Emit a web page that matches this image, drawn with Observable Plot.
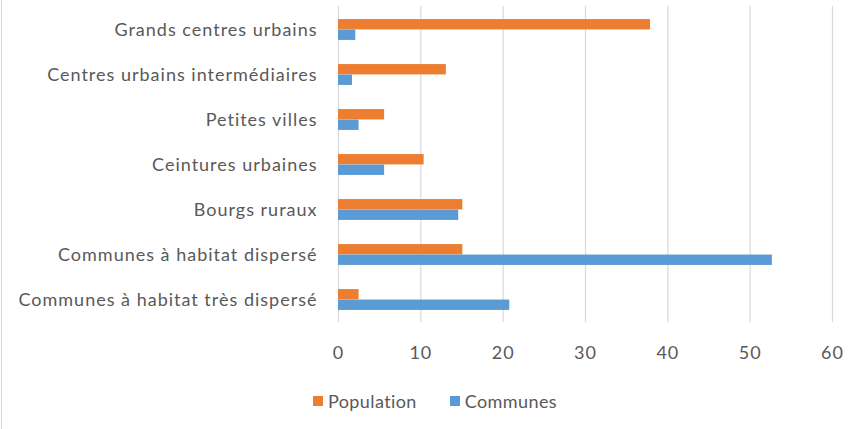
<!DOCTYPE html>
<html>
<head>
<meta charset="utf-8">
<script src="https://cdn.jsdelivr.net/npm/d3@7"></script>
<script src="https://cdn.jsdelivr.net/npm/@observablehq/plot@0.6"></script>
<style>
  html, body { margin: 0; padding: 0; background: #fff; }
  #chart { position: relative; width: 859px; height: 429px; overflow: hidden; font-family: Lato, sans-serif; color: #595959; }
  #chart .frame { position: absolute; left: 1px; top: 0; width: 1px; height: 429px; background: #d9d9d9; }
  #legend { position: absolute; top: 390px; left: 313px; display: flex; align-items: center; font-size: 18px; letter-spacing: 0.4px; color: #595959; }
  #legend .item { display: flex; align-items: center; }
  #legend .item:first-child { margin-right: 33px; }
  #legend .sw { width: 10px; height: 10px; margin-right: 5px; }
</style>
</head>
<body>
<div id="chart"><div class="frame"></div></div>
<script>
const categories = [
  "Grands centres urbains",
  "Centres urbains intermédiaires",
  "Petites villes",
  "Ceintures urbaines",
  "Bourgs ruraux",
  "Communes à habitat dispersé",
  "Communes à habitat très dispersé"
];
const population = [37.9, 13.1, 5.6, 10.4, 15.1, 15.1, 2.5];
const communes = [2.1, 1.7, 2.5, 5.6, 14.6, 52.7, 20.8];
const seriesNames = ["Population", "Communes"];
const seriesColors = ["#ED7D31", "#5B9BD5"];
const xTicks = [0, 10, 20, 30, 40, 50, 60];

const popData = categories.map((c, i) => ({category: c, value: population[i]}));
const comData = categories.map((c, i) => ({category: c, value: communes[i]}));

const height = 372, marginTop = 6, marginBottom = 50;
const band = (height - marginTop - marginBottom) / categories.length;
const barH = 10.5;

const chart = Plot.plot({
  width: 859,
  height,
  marginTop,
  marginBottom,
  marginLeft: 338,
  marginRight: 27,
  style: {fontFamily: "Lato, sans-serif", fontSize: "18px", letterSpacing: "1px", color: "#595959", background: "transparent"},
  x: {domain: [0, 60], ticks: xTicks, tickSize: 0, tickPadding: 24, label: null, grid: false},
  y: {domain: categories, padding: 0, tickSize: 0, tickPadding: 21, label: null},
  marks: [
    Plot.ruleX(xTicks, {stroke: "#d9d9d9", strokeWidth: 1.2}),
    Plot.barX(popData, {y: "category", x: "value", fill: seriesColors[0], insetTop: band / 2 - barH, insetBottom: band / 2}),
    Plot.barX(comData, {y: "category", x: "value", fill: seriesColors[1], insetTop: band / 2, insetBottom: band / 2 - barH})
  ]
});
document.getElementById("chart").appendChild(chart);

const legend = document.createElement("div");
legend.id = "legend";
seriesNames.forEach((name, i) => {
  const item = document.createElement("div");
  item.className = "item";
  const sw = document.createElement("div");
  sw.className = "sw";
  sw.style.background = seriesColors[i];
  const t = document.createElement("span");
  t.textContent = name;
  item.appendChild(sw);
  item.appendChild(t);
  legend.appendChild(item);
});
document.getElementById("chart").appendChild(legend);
</script>
</body>
</html>
